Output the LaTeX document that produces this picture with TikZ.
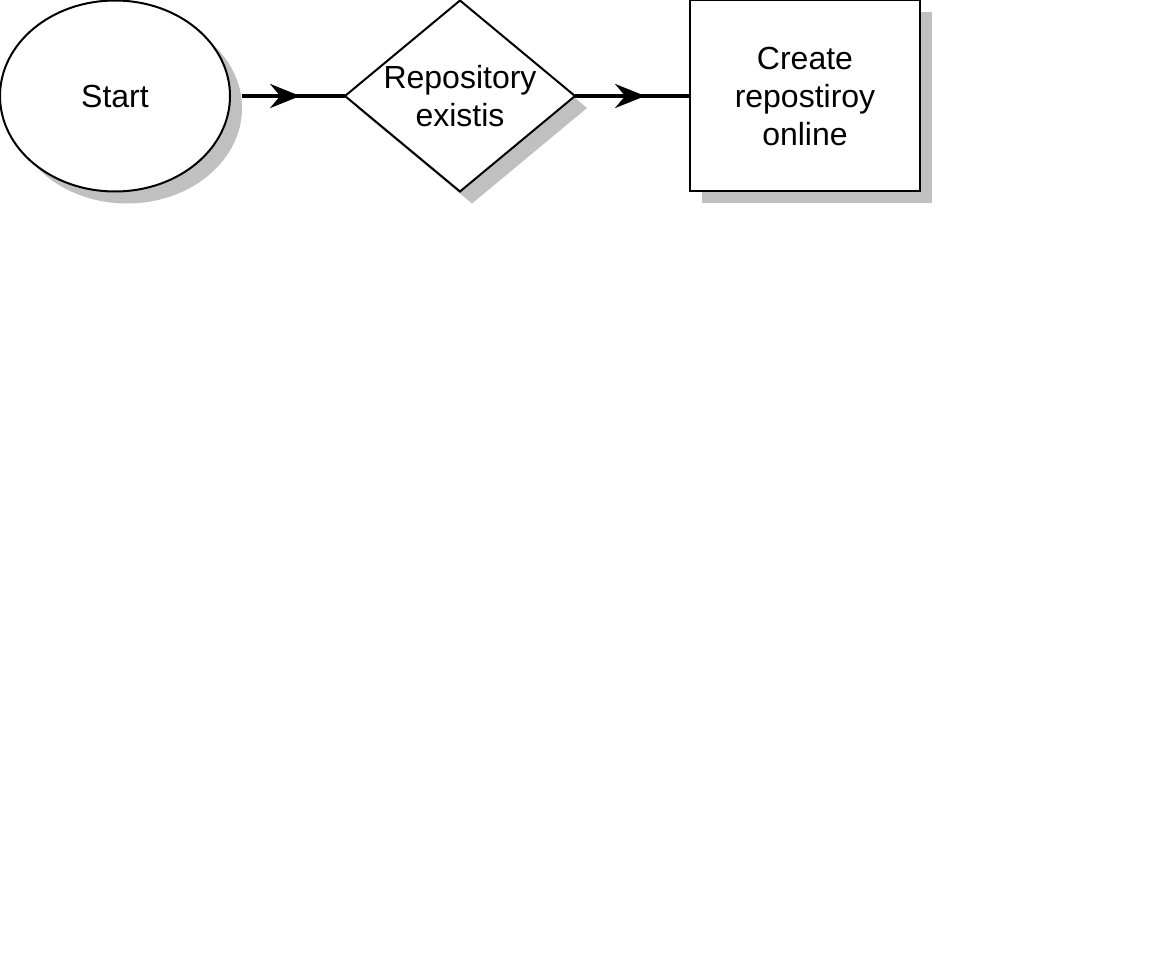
\documentclass[tikz,border=0pt]{standalone}
\usepackage{fontspec}
\setmainfont{Liberation Sans}
\usetikzlibrary{arrows.meta,positioning,shapes.geometric,shadows,decorations.markings}
\definecolor{shadowgray}{RGB}{192,192,192}

\begin{document}
\begin{tikzpicture}[x=1pt,y=-1pt,>=Stealth,node distance=115pt,
    font=\fontsize{32}{38}\selectfont,
    box/.style={draw,line width=2pt,fill=white,inner sep=0pt,outer sep=0pt,
      minimum width=230pt,minimum height=191pt,align=center,
      drop shadow={shadow xshift=12pt,shadow yshift=-12pt,fill=shadowgray,opacity=1}},
    conn/.style={line width=4pt,postaction={decorate},
      decoration={markings,mark=at position 0.61 with {\arrow{Stealth[length=30pt,width=24pt,inset=10pt]}}}}]
  \useasboundingbox (0,0) rectangle (1152,960);

  \node[box,ellipse] (start) at (115,96) {Start};
  \node[box,diamond,aspect=1.2,right=of start,
    label={[align=center]center:Repository\\existis}] (exists) {};
  \node[box,rectangle,right=of exists] (create) {Create\\repostiroy\\online};

  \draw[conn,shorten <=12pt] (start.east) -- (exists.west);
  \draw[conn] (exists.east) -- (create.west);
\end{tikzpicture}
\end{document}
